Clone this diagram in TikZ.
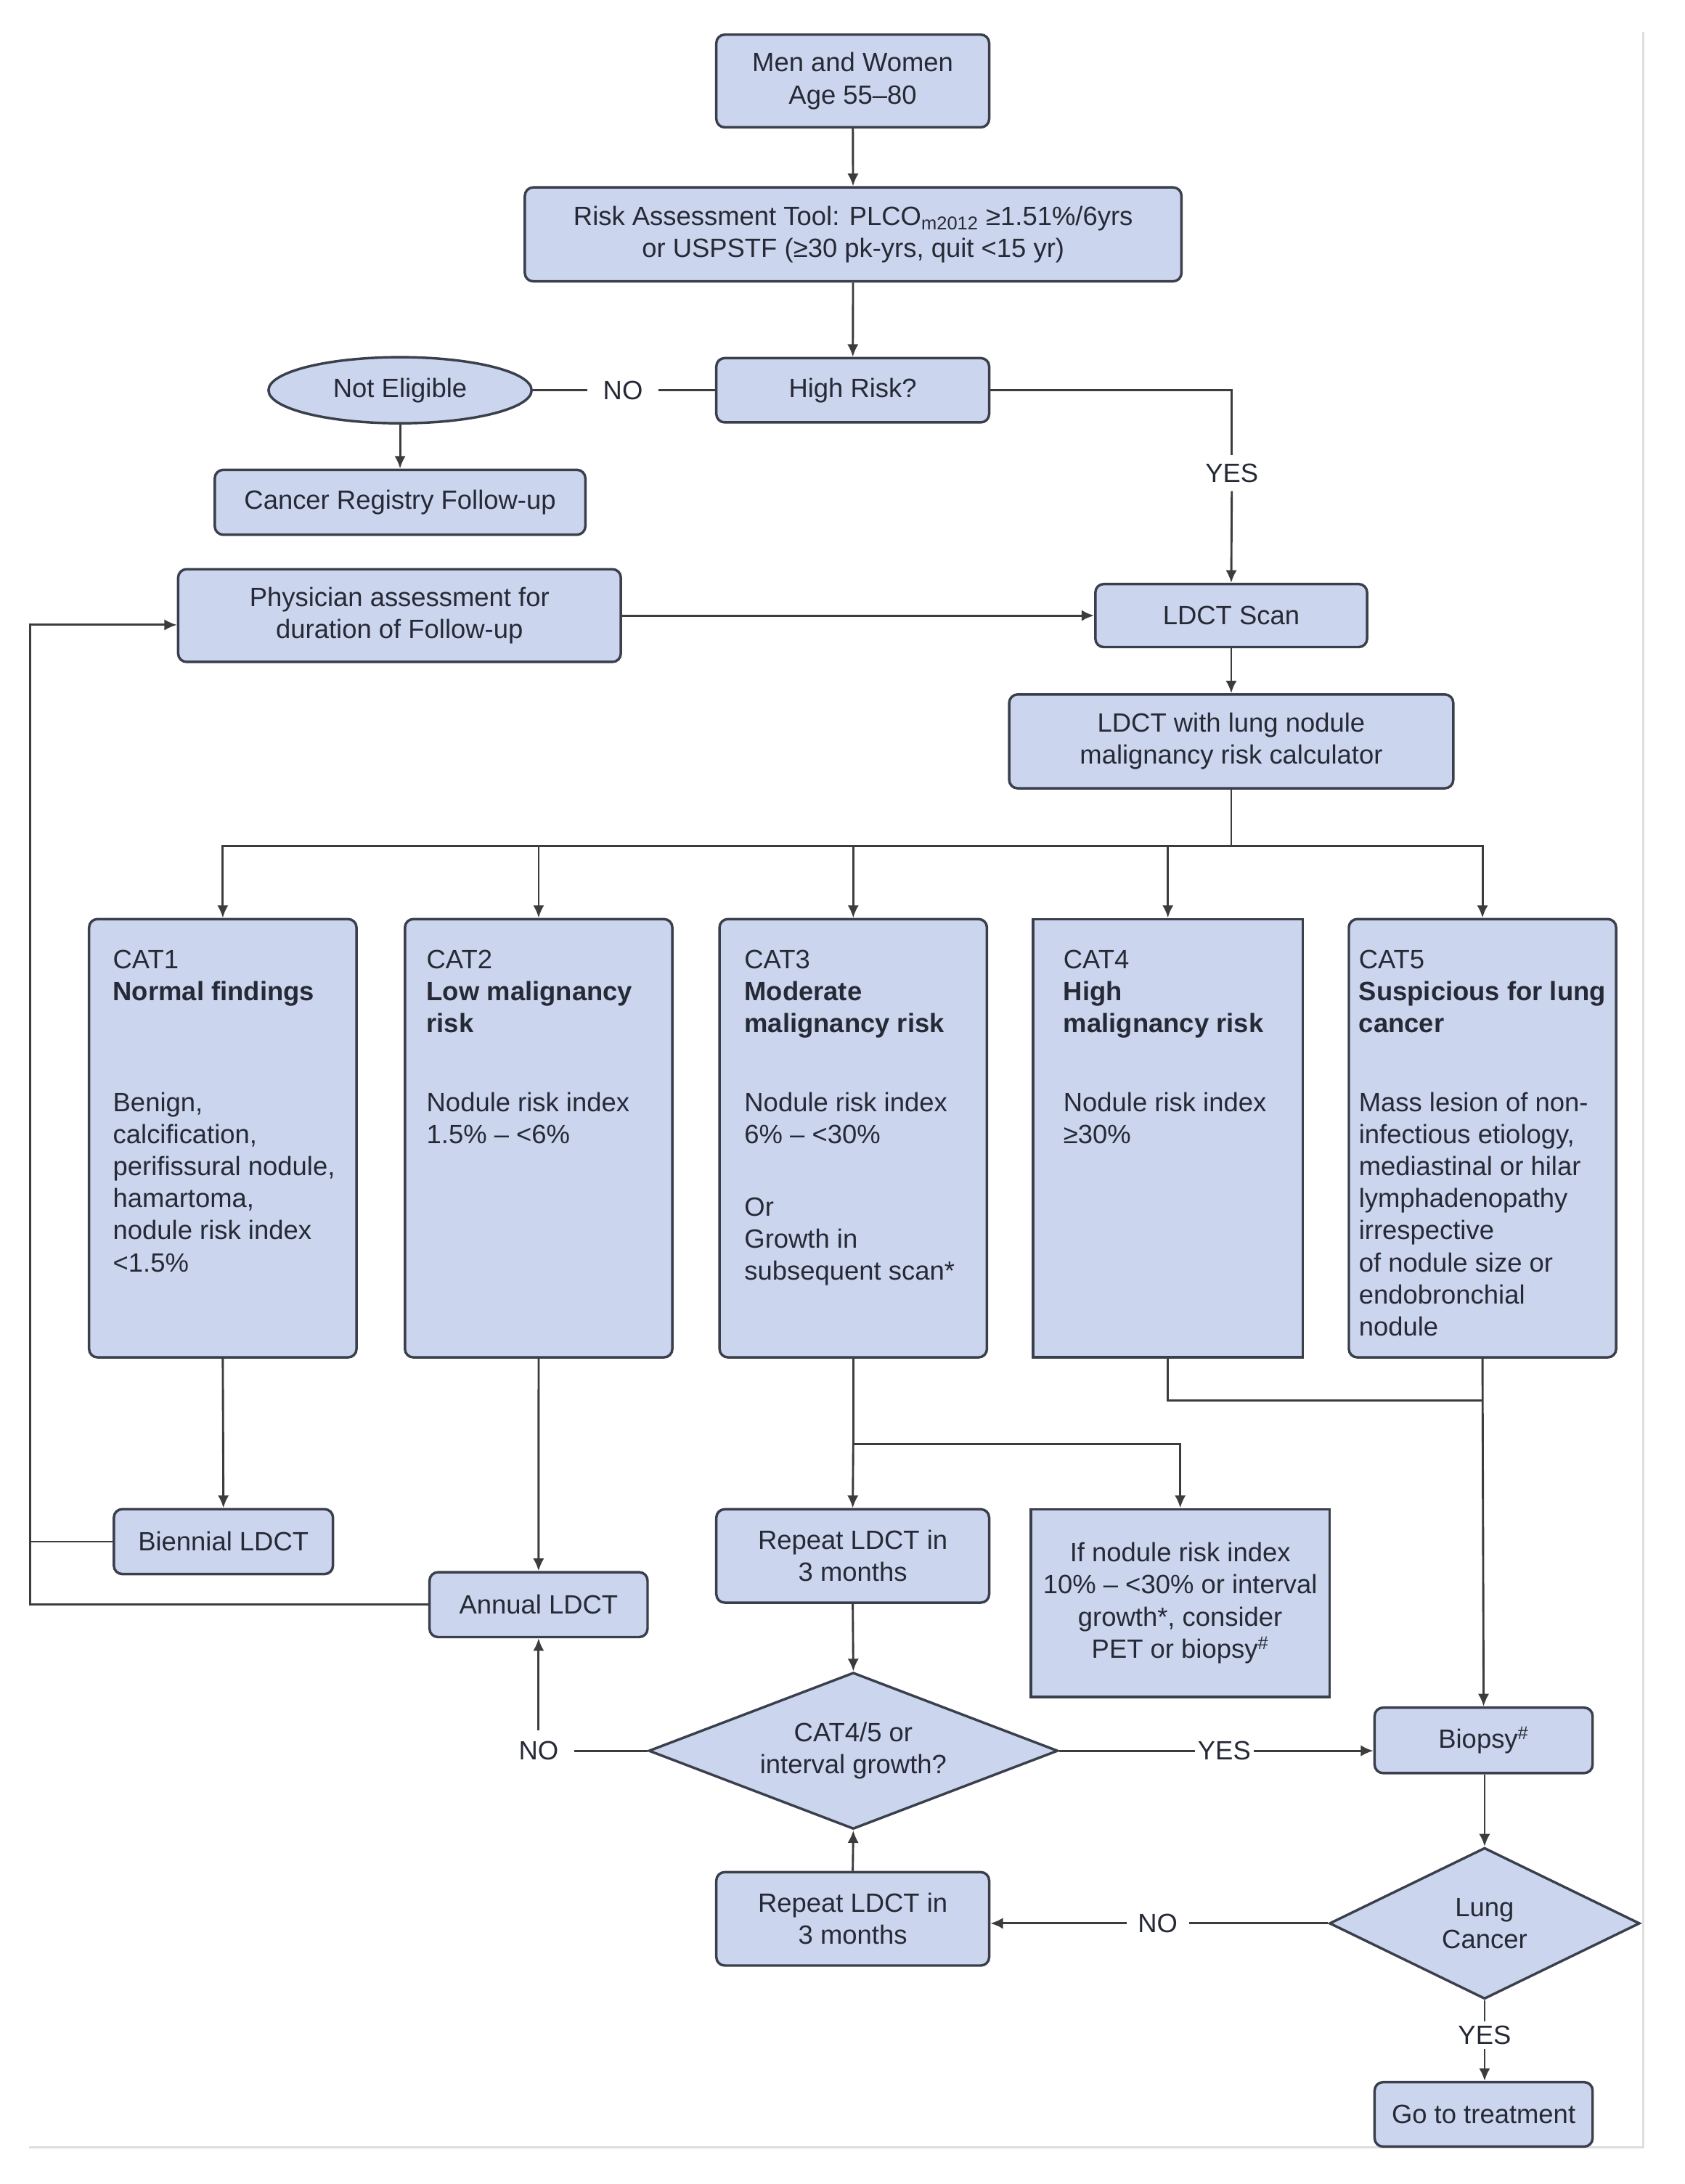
\documentclass[tikz,border=0pt]{standalone}
\usepackage{fontspec}
\setmainfont{Liberation Sans}
\usetikzlibrary{shapes.geometric,arrows.meta}
\definecolor{boxfill}{HTML}{CCD5EE}
\definecolor{boxline}{HTML}{3A3F4C}
\definecolor{txtc}{HTML}{262A36}
\definecolor{lnc}{HTML}{3C3C3C}
\definecolor{framec}{HTML}{DEDEDE}
\newcommand{\fsz}{\fontsize{19}{23}\selectfont}
\begin{document}
\begin{tikzpicture}[x=1pt,y=-1pt,
  every node/.style={font=\fsz, text=txtc},
  basebox/.style={draw=boxline, fill=boxfill, line width=1.8pt, inner sep=0pt, align=center},
  rbox/.style={basebox, rectangle, rounded corners=6pt},
  sbox/.style={basebox, rectangle},
  dbox/.style={basebox, diamond},
  ebox/.style={basebox, ellipse},
  cline/.style={draw=lnc, line width=1.5pt},
  arr/.style={cline, -{Latex[length=9pt,width=8pt]}},
  lbl/.style={fill=white, inner xsep=5pt, inner ysep=4pt},
  txtl/.style={anchor=north west, inner sep=0pt, align=left},
]
\fill[white] (0,0) rectangle (1210,1569.3);
\useasboundingbox (0,0) rectangle (1210,1569.3);
\draw[framec, line width=1.5pt] (21,1543) -- (1180.4,1543) -- (1180.4,23);

% top nodes
\node[rbox, minimum width=196pt, minimum height=66.6pt] (men) at (612.6,58.2) {Men and Women\\Age 55–80};
\node[rbox, minimum width=471.7pt, minimum height=67.5pt] (risk) at (612.9,168.4) {Risk Assessment Tool: PLCO\textsubscript{m2012} ≥1.51\%/6yrs\\or USPSTF (≥30 pk-yrs, quit <15 yr)};
\node[rbox, minimum width=196pt, minimum height=46.2pt] (high) at (612.6,280.4) {High Risk?};
\node[ebox, minimum width=189pt, minimum height=47.5pt] (ne) at (287.4,280.4) {Not Eligible};
\node[rbox, minimum width=266.2pt, minimum height=46.6pt] (reg) at (287.4,360.9) {Cancer Registry Follow-up};
\node[rbox, minimum width=318pt, minimum height=66.6pt] (phys) at (287,442.3) {Physician assessment for\\duration of Follow-up};
\node[rbox, minimum width=195.2pt, minimum height=45.3pt] (scan) at (884.5,442.3) {LDCT Scan};
\node[rbox, minimum width=319pt, minimum height=67.4pt] (calc) at (884.5,532.7) {LDCT with lung nodule\\malignancy risk calculator};

% category boxes
\node[rbox, minimum width=192.1pt, minimum height=314.9pt] (cat1) at (160.05,817.85) {};
\node[rbox, minimum width=192.1pt, minimum height=314.9pt] (cat2) at (386.95,817.85) {};
\node[rbox, minimum width=192.1pt, minimum height=314.9pt] (cat3) at (612.95,817.85) {};
\node[sbox, minimum width=193.6pt, minimum height=314.9pt] (cat4) at (839,817.85) {};
\node[rbox, minimum width=192pt, minimum height=314.9pt] (cat5) at (1065,817.85) {};

\node[txtl] (cat1h) at (81,682.5) {CAT1\\\textbf{Normal findings}};
\node[txtl] (cat2h) at (306.3,682.5) {CAT2\\\textbf{Low malignancy}\\\textbf{risk}};
\node[txtl] (cat3h) at (534.6,682.5) {CAT3\\\textbf{Moderate}\\\textbf{malignancy risk}};
\node[txtl] (cat4h) at (763.8,682.5) {CAT4\\\textbf{High}\\\textbf{malignancy risk}};
\node[txtl] (cat5h) at (976,682.5) {CAT5\\\textbf{Suspicious for lung}\\\textbf{cancer}};

\node[txtl] (cat1b) at (81,784.8) {Benign,\\calcification,\\perifissural nodule,\\hamartoma,\\nodule risk index\\<1.5\%};
\node[txtl] (cat2b) at (306.3,784.8) {Nodule risk index\\1.5\% – <6\%};
\node[txtl] (cat3b) at (534.6,784.8) {Nodule risk index\\6\% – <30\%\\[29pt]Or\\Growth in\\subsequent scan*};
\node[txtl] (cat4b) at (763.8,784.8) {Nodule risk index\\≥30\%};
\node[txtl] (cat5b) at (976,784.8) {Mass lesion of non-\\infectious etiology,\\mediastinal or hilar\\lymphadenopathy\\irrespective\\of nodule size or\\endobronchial\\nodule};

% lower nodes
\node[rbox, minimum width=157.4pt, minimum height=46.6pt] (bien) at (160.5,1107.7) {Biennial LDCT};
\node[rbox, minimum width=156.6pt, minimum height=46.6pt] (annual) at (386.9,1153) {Annual LDCT};
\node[rbox, minimum width=196pt, minimum height=67.1pt] (rep1) at (612.6,1118) {Repeat LDCT in\\3 months};
\node[sbox, minimum width=214.5pt, minimum height=134.9pt] (ifnod) at (847.85,1151.85) {If nodule risk index\\10\% – <30\% or interval\\growth*, consider\\PET or biopsy\textsuperscript{\#}};
\node[dbox, shape aspect=2.61, minimum width=294pt, minimum height=112.5pt] (d1) at (613,1258) {CAT4/5 or\\interval growth?};
\node[rbox, minimum width=156.6pt, minimum height=47pt] (biopsy) at (1065.8,1250.5) {Biopsy\textsuperscript{\#}};
\node[dbox, shape aspect=2.05, minimum width=223pt, minimum height=108.7pt] (lung) at (1066.5,1382) {Lung\\Cancer};
\node[rbox, minimum width=196pt, minimum height=67.1pt] (rep2) at (612.6,1378.75) {Repeat LDCT in\\3 months};
\node[rbox, minimum width=156.6pt, minimum height=46.3pt] (treat) at (1065.8,1519.25) {Go to treatment};

% labels
\node[lbl, inner xsep=11pt] (no1) at (447.5,280.4) {NO};
\node[lbl, inner ysep=6pt] (yes1) at (884.9,340) {YES};
\node[lbl, inner xsep=11pt, inner ysep=8pt] (no2) at (386.9,1258) {NO};
\node[lbl, inner xsep=2pt] (yes2) at (879.5,1258) {YES};
\node[lbl, inner xsep=8pt] (no3) at (831.7,1382) {NO};
\node[lbl, inner ysep=3pt] (yes3) at (1066.5,1462.6) {YES};

% coordinates
\coordinate (br) at (884.5,607.9);
\coordinate (lp) at (21.6,449);
\coordinate (b3) at (612.95,1037.4);
\coordinate (j45) at (1065,1006.5);

% connectors
\draw[arr] (men) -- (risk);
\draw[arr] (risk) -- (high);
\draw[cline] (high.west) -- (no1.east);
\draw[cline] (no1.west) -- (ne.east);
\draw[arr] (ne.south) -- (reg.north);
\draw[cline] (high.east) -| (yes1.north);
\draw[arr] (yes1.south) -- (scan.north);
\draw[arr] (phys.east) -- (scan.west);
\draw[arr] (scan) -- (calc);
\draw[cline] (calc.south) -- (br);
\draw[arr] (br) -| (cat1.north);
\draw[arr] (br) -| (cat2.north);
\draw[arr] (br) -| (cat3.north);
\draw[arr] (br) -| (cat4.north);
\draw[arr] (br) -| (cat5.north);
\draw[arr] (cat1.south) -- (bien.north);
\draw[arr] (cat2.south) -- (annual.north);
\draw[cline] (bien.west) -- (bien.west -| lp);
\draw[arr] (annual.west) -| (lp) -- (lp -| phys.west);
\draw[cline] (cat3.south) -- (b3);
\draw[arr] (b3) -- (rep1.north);
\draw[arr] (b3) -| (ifnod.north);
\draw[arr] (rep1.south) -- (d1.north);
\draw[cline] (d1.west) -- (no2.east);
\draw[arr] (no2.north) -- (annual.south);
\draw[cline] (d1.east) -- (yes2.west);
\draw[arr] (yes2.east) -- (yes2.east -| biopsy.west);
\draw[cline] (cat4.south) |- (j45);
\draw[arr] (cat5.south) -- (biopsy.north);
\draw[arr] (biopsy.south -| lung.north) -- (lung.north);
\draw[cline] (lung.west) -- (no3.east);
\draw[arr] (no3.west) -- (no3.west -| rep2.east);
\draw[arr] (rep2.north) -- (d1.south);
\draw[cline] (lung.south) -- (yes3.north);
\draw[arr] (yes3.south) -- (yes3.south |- treat.north);
\end{tikzpicture}
\end{document}
